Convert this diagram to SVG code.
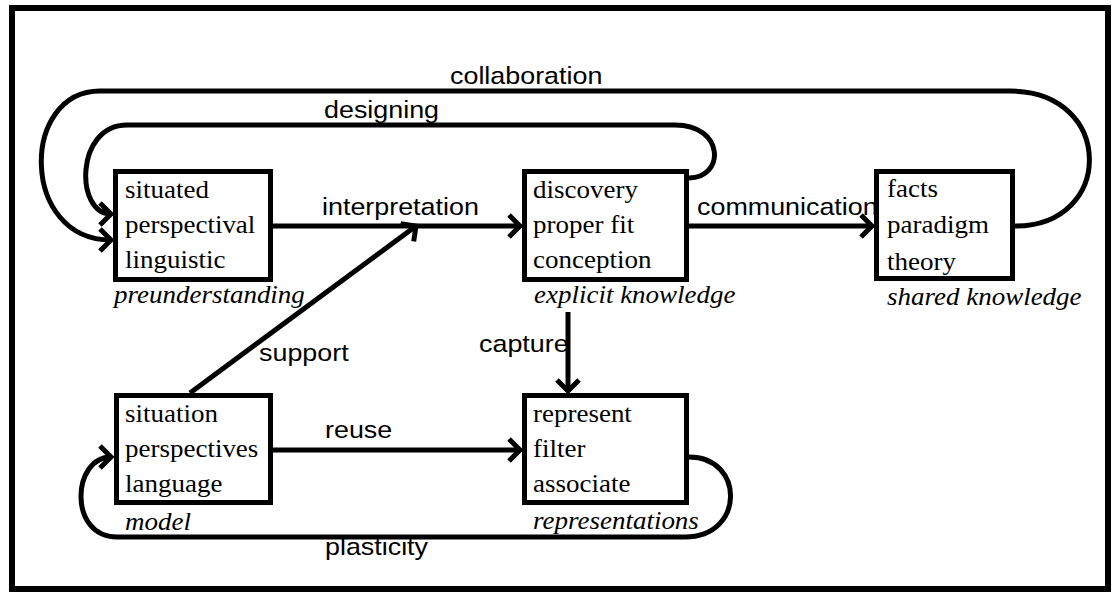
<svg xmlns="http://www.w3.org/2000/svg" width="1112" height="592" viewBox="0 0 1112 592">
<style>
.frame{fill:none;stroke:#000;stroke-width:6}
.box{fill:#fff;stroke:#000;stroke-width:5}
.t{font-family:"Liberation Serif","Times New Roman",serif;font-size:25px;fill:#000}
.i{font-family:"Liberation Serif","Times New Roman",serif;font-size:25px;font-style:italic;fill:#000}
.s{font-family:"Liberation Sans",Arial,sans-serif;font-size:24px;fill:#000}
.c{fill:none;stroke:#000;stroke-width:5}
</style>
<defs>
<marker id="arr" markerUnits="userSpaceOnUse" viewBox="-16 -16 20 32" refX="0" refY="0" markerWidth="20" markerHeight="32" orient="auto" overflow="visible">
<path d="M-11,-11 L0,0 L-11,11" fill="none" stroke="#000" stroke-width="5"/>
</marker>
</defs>
<rect class="frame" x="12" y="8" width="1096" height="581"/>
<g id="connectors">
<path class="c" d="M1015,226 C1115,226 1115,91 1010,91 L100,91 C20,91 20,240 111,240" marker-end="url(#arr)"/>
<path class="c" d="M689,178 C725,178 725,125 675,125 L127,125 C75,125 75,214 111,214" marker-end="url(#arr)"/>
<path class="c" d="M273,226 L520,226" marker-end="url(#arr)"/>
<path class="c" d="M190,393 L416,226" marker-end="url(#arr)"/>
<path class="c" d="M689,226 L872,226" marker-end="url(#arr)"/>
<path class="c" d="M568,312 L568,391" marker-end="url(#arr)"/>
<path class="c" d="M273,450 L520,450" marker-end="url(#arr)"/>
<path class="c" d="M689,457 C745,457 745,537 685,537 L117,537 C68,537 72,457 111,457" marker-end="url(#arr)"/>
<text class="s" transform="translate(450 84) scale(1.12 1)">collaboration</text>
<text class="s" transform="translate(324 118) scale(1.12 1)">designing</text>
<text class="s" transform="translate(322 215) scale(1.12 1)">interpretation</text>
<text class="s" transform="translate(697 215) scale(1.12 1)">communication</text>
<text class="s" transform="translate(259 361) scale(1.12 1)">support</text>
<text class="s" transform="translate(479 352) scale(1.12 1)">capture</text>
<text class="s" transform="translate(325 438) scale(1.12 1)">reuse</text>
<text class="s" transform="translate(325 555) scale(1.12 1)">plasticity</text>
</g>
<g id="preunderstanding">
<rect class="box" x="115.5" y="171.5" width="155" height="108"/>
<text class="t" transform="translate(125 198) scale(1.08 1)">situated</text>
<text class="t" transform="translate(125 233) scale(1.08 1)">perspectival</text>
<text class="t" transform="translate(125 268) scale(1.08 1)">linguistic</text>
<text class="i" transform="translate(114 303) scale(1.08 1)">preunderstanding</text>
</g>
<g id="explicit-knowledge">
<rect class="box" x="524.5" y="171.5" width="162" height="108"/>
<text class="t" transform="translate(533 198) scale(1.08 1)">discovery</text>
<text class="t" transform="translate(533 233) scale(1.08 1)">proper fit</text>
<text class="t" transform="translate(533 268) scale(1.08 1)">conception</text>
<text class="i" transform="translate(534 303) scale(1.08 1)">explicit knowledge</text>
</g>
<g id="shared-knowledge">
<rect class="box" x="876.5" y="171.5" width="136" height="107"/>
<text class="t" transform="translate(887 197) scale(1.08 1)">facts</text>
<text class="t" transform="translate(887 233) scale(1.08 1)">paradigm</text>
<text class="t" transform="translate(887 270) scale(1.08 1)">theory</text>
<text class="i" transform="translate(887 305) scale(1.08 1)">shared knowledge</text>
</g>
<g id="model">
<rect class="box" x="116.5" y="395.5" width="154" height="107"/>
<text class="t" transform="translate(125 422) scale(1.08 1)">situation</text>
<text class="t" transform="translate(125 457) scale(1.08 1)">perspectives</text>
<text class="t" transform="translate(125 492) scale(1.08 1)">language</text>
<text class="i" transform="translate(125 530) scale(1.08 1)">model</text>
</g>
<g id="representations">
<rect class="box" x="524.5" y="395.5" width="162" height="107"/>
<text class="t" transform="translate(533 422) scale(1.08 1)">represent</text>
<text class="t" transform="translate(533 457) scale(1.08 1)">filter</text>
<text class="t" transform="translate(533 492) scale(1.08 1)">associate</text>
<text class="i" transform="translate(533 529) scale(1.08 1)">representations</text>
</g>
</svg>
